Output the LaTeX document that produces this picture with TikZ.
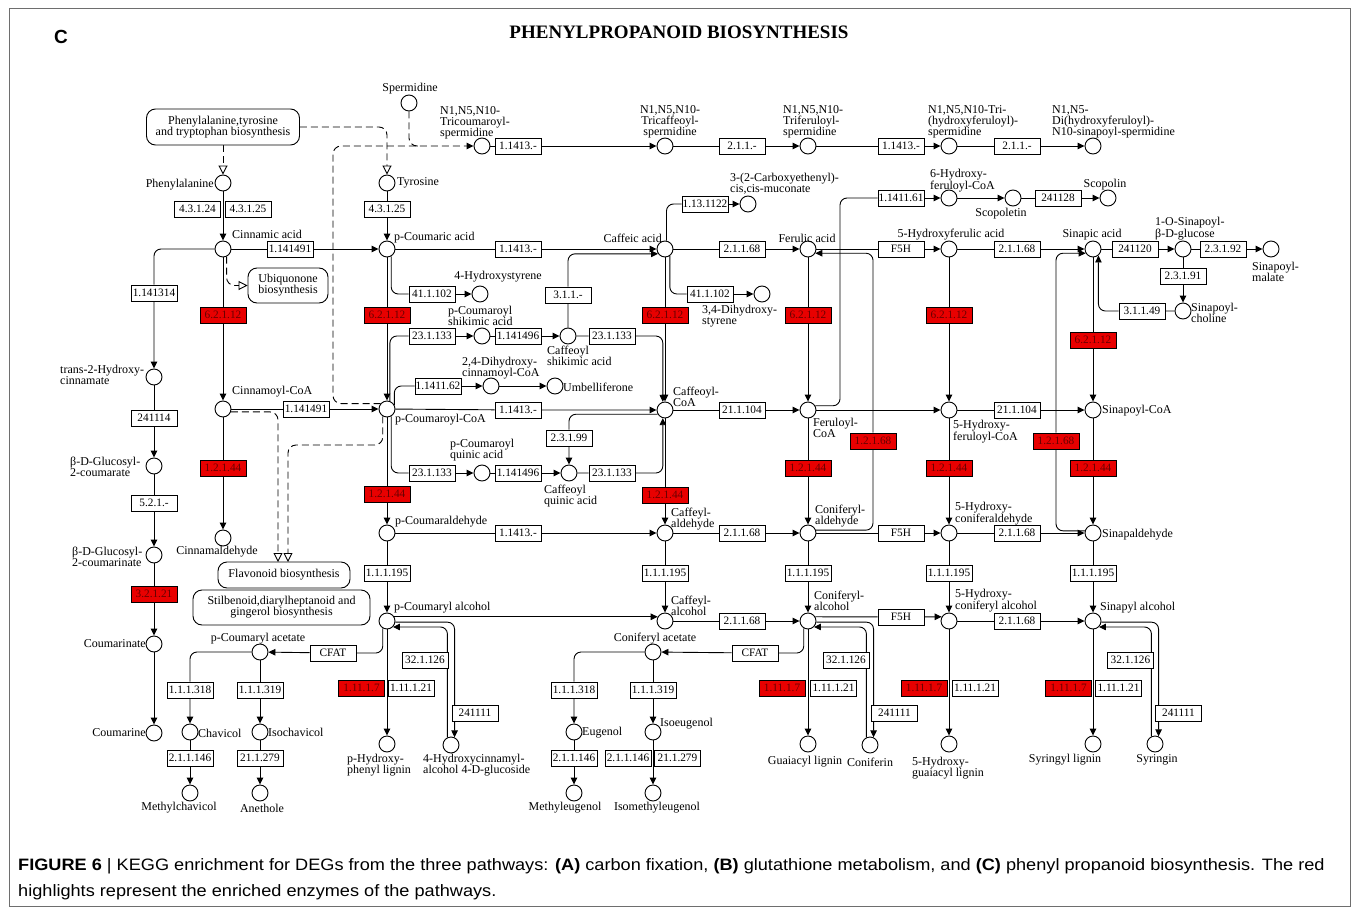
\documentclass[tikz,border=0pt]{standalone}
\usepackage{fontspec}
\setmainfont{Liberation Serif}
\newfontfamily\capfont{Liberation Sans}
\usetikzlibrary{arrows.meta,calc}
\pgfdeclarelayer{bg}
\pgfsetlayers{bg,main}
\definecolor{kred}{RGB}{232,0,0}
\definecolor{kdark}{RGB}{105,0,0}
\definecolor{framec}{RGB}{110,110,110}
\begin{document}
\begin{tikzpicture}[x=1pt,y=-1pt,
 cpd/.style={circle,draw,fill=white,minimum size=16pt,inner sep=0pt,line width=0.9pt},
 enz/.style={draw,fill=white,minimum width=46pt,minimum height=16pt,inner sep=0pt,line width=0.9pt,font=\fontsize{11.3}{11}\selectfont},
 renz/.style={enz,fill=kred,text=kdark},
 lbl/.style={inner sep=0pt,align=left,font=\fontsize{12}{11}\selectfont},
 clbl/.style={lbl,align=center},
 pbox/.style={draw,fill=white,rounded corners=9pt,align=center,line width=0.9pt,font=\fontsize{12}{11}\selectfont,inner sep=0pt},
 ln/.style={line width=0.9pt,rounded corners=7pt},
 rx/.style={ln,-{Triangle[length=7pt,width=6.5pt]}},
 dsh/.style={line width=0.9pt,dash pattern=on 7pt off 4pt,rounded corners=8pt},
 otri/.style={-{Triangle[open,length=9pt,width=9pt]}},
 captxt/.style={anchor=west,inner sep=0pt,font=\capfont\fontsize{16.5}{16.5}\selectfont},
]
\useasboundingbox (0,0) rectangle (1358,910);
\draw[framec,line width=1pt] (9,8) rectangle (1350,906);
\node[font=\capfont\bfseries\fontsize{19}{19}\selectfont,inner sep=0pt] (lettc) at (61,37) {C};
\node[font=\bfseries\fontsize{19}{19}\selectfont,inner sep=0pt] (title) at (679,32) {PHENYLPROPANOID BIOSYNTHESIS};

% ---------- pathway boxes
\node[pbox,minimum width=153pt,minimum height=36pt] (pbx1) at (223,127) {Phenylalanine,tyrosine\\and tryptophan biosynthesis};
\node[pbox,minimum width=80pt,minimum height=35pt] (ubq) at (288,285.5) {Ubiquonone\\biosynthesis};
\node[pbox,minimum width=132pt,minimum height=26pt] (flav) at (284,575) {Flavonoid biosynthesis};
\node[pbox,minimum width=177pt,minimum height=35pt] (stil) at (281.5,607.5) {Stilbenoid,diarylheptanoid and\\gingerol biosynthesis};

% ---------- compounds
\foreach \n/\x/\y in {spd/409/103,phe/223/183,cin/223/249,tyr/387/183,pca/387/249,hst/480/294,
 t2h/154/377,gca/154/466,gcn/154/555,cmt/154/644,cmr/154/733,cnc/223/409,cnd/223/538,
 pcc/387/409,psa/482/336,csa/568/336,dhc/491/386,umb/555/386,pqa/482/473,cqa/569/473,
 caf/665/249,ccoa/665/410,cmu/748/204,dhs/762/294,fer/808/249,fcoa/808/410,
 hfc/949/198,scl/1013/198,scp/1108/198,hfa/949/249,sin/1093/249,sgl/1183/249,smal/1271/249,
 sch/1183/311,scoa/1093/410,hfcoa/949/410,pcald/387/533,cfald/665/533,cnald/808/533,
 hcald/949/533,sald/1093/533,pcal/387/621,cfal/665/621,cnal/808/621,hcal/949/621,sal/1093/621,
 pcac/260/652,chv/190/732,ichv/260/732,mchv/190/793,ane/260/793,phl/387/744,hcg/451/745,
 cnac/653/652,eug/574/732,ieug/653/732,meug/574/793,imeug/653/793,gl/808/744,cnf/870/745,
 hgl/949/744,syl/1093/744,syr/1155/744,tcs/482/146,tcf/665/146,tfs/808/146,ths/949/146,dhsp/1093/146}
 {\node[cpd] (\n) at (\x,\y) {};}

% ---------- white enzymes
\foreach \n/\x/\y/\t in {e1/197.5/209/4.3.1.24,e2/248/209/4.3.1.25,e3/387/209/4.3.1.25,
 e4/290/249/1.141491,e5/154/293/1.141314,e6/154/418/241114,e7/154/503/5.2.1.-,
 e10/306/409/1.141491,e12/432/294/41.1.102,e14/432/336/23.1.133,e15/518/336/1.141496,
 e16/568/295/3.1.1.-,e17/612/336/23.1.133,e18/438/386/1.1411.62,e19/518/410/1.1413.-,
 e20/569/438/2.3.1.99,e21/432/473/23.1.133,e22/518/473/1.141496,e23/612/473/23.1.133,
 e25/518/533/1.1413.-,e26/387/573/1.1.1.195,e27/518/249/1.1413.-,e28/705/204/1.13.1122,
 e29/710/294/41.1.102,e31/742/249/2.1.1.68,e32/742/410/21.1.104,e34/742/533/2.1.1.68,
 e35/901/533/F5H,e36/665/573/1.1.1.195,e37/808/573/1.1.1.195,e41/901/198/1.1411.61,
 e42/1058/198/241128,e43/901/249/F5H,e44/1017/249/2.1.1.68,e45/1135/249/241120,
 e46/1223/249/2.3.1.92,e47/1183/276/2.3.1.91,e48/1142/311/3.1.1.49,e50/1017/410/21.1.104,
 e55/1017/533/2.1.1.68,e56/949/573/1.1.1.195,e57/1093/573/1.1.1.195,e58/742/621/2.1.1.68,
 e59/901/617/F5H,e60/1017/621/2.1.1.68,e61/333/653/CFAT,e62/190/690/1.1.1.318,
 e63/260/690/1.1.1.319,e64/190/758/2.1.1.146,e65/260/758/21.1.279,e67/411/688/1.11.1.21,
 e68/425/660/32.1.126,e69/475/713/241111,e70/755/653/CFAT,e71/574/690/1.1.1.318,
 e72/653/690/1.1.1.319,e73/574/758/2.1.1.146,e74/628/758/2.1.1.146,e75/677.5/758/21.1.279,
 e77/833.5/688/1.11.1.21,e78/846/660/32.1.126,e79/894.5/713/241111,e81/975/688/1.11.1.21,
 e83/1118.5/688/1.11.1.21,e84/1130.5/660/32.1.126,e85/1178.5/713/241111,
 e86/518/146/1.1413.-,e87/742/146/2.1.1.-,e88/901/146/1.1413.-,e89/1017/146/2.1.1.-}
 {\node[enz] (\n) at (\x,\y) {\t};}

% ---------- red enzymes
\foreach \n/\x/\y/\t in {e8/154/594/3.2.1.21,e9/223/315/6.2.1.12,e11/223/468/1.2.1.44,
 e13/387/315/6.2.1.12,e24/387/494/1.2.1.44,e30/665/315/6.2.1.12,e33/665/495/1.2.1.44,
 e38/808/468/1.2.1.44,e39/873/441/1.2.1.68,e40/808/315/6.2.1.12,e49/1093/340/6.2.1.12,
 e51/949/315/6.2.1.12,e52/1056/441/1.2.1.68,e53/949/468/1.2.1.44,e54/1093/468/1.2.1.44,
 e66/361.5/688/1.11.1.7,e76/782/688/1.11.1.7,e80/924/688/1.11.1.7,e82/1068.5/688/1.11.1.7}
 {\node[renz] (\n) at (\x,\y) {\t};}

% ---------- labels
\node[lbl] (l-spd) at (410,89) {Spermidine};
\node[lbl,anchor=east] (l-phe) at (214,185) {Phenylalanine};
\node[lbl,anchor=west] (l-cin) at (232,234) {Cinnamic acid};
\node[lbl,anchor=west] (l-tyr) at (397,183) {Tyrosine};
\node[lbl,anchor=west] (l-pca) at (394,238) {p-Coumaric acid};
\node[lbl] (l-hst) at (498,277) {4-Hydroxystyrene};
\node[lbl,anchor=west] (l-t2h) at (60,375) {trans-2-Hydroxy-\\cinnamate};
\node[lbl,anchor=west] (l-gca) at (70,467) {β-D-Glucosyl-\\2-coumarate};
\node[lbl,anchor=west] (l-gcn) at (72,557) {β-D-Glucosyl-\\2-coumarinate};
\node[lbl,anchor=east] (l-cmt) at (146,644) {Coumarinate};
\node[lbl,anchor=east] (l-cmr) at (146,733) {Coumarine};
\node[lbl,anchor=west] (l-cnc) at (232,392) {Cinnamoyl-CoA};
\node[lbl] (l-cnd) at (217,552) {Cinnamaldehyde};
\node[lbl,anchor=west] (l-pcc) at (395,420) {p-Coumaroyl-CoA};
\node[lbl,anchor=west] (l-psa) at (448,316) {p-Coumaroyl\\shikimic acid};
\node[lbl,anchor=west] (l-csa) at (547,356) {Caffeoyl\\shikimic acid};
\node[lbl,anchor=west] (l-dhc) at (462,368) {2,4-Dihydroxy-\\cinnamoyl-CoA};
\node[lbl,anchor=west] (l-umb) at (563,387) {Umbelliferone};
\node[lbl,anchor=west] (l-pqa) at (450,450) {p-Coumaroyl\\quinic acid};
\node[lbl,anchor=west] (l-cqa) at (544,496) {Caffeoyl\\quinic acid};
\node[lbl,anchor=east] (l-caf) at (662,238) {Caffeic acid};
\node[lbl,anchor=west] (l-ccoa) at (673,397) {Caffeoyl-\\CoA};
\node[lbl,anchor=west] (l-cmu) at (730,184) {3-(2-Carboxyethenyl)-\\cis,cis-muconate};
\node[lbl,anchor=west] (l-dhs) at (702,316) {3,4-Dihydroxy-\\styrene};
\node[lbl] (l-fer) at (807,238) {Ferulic acid};
\node[lbl,anchor=west] (l-fcoa) at (813,428) {Feruloyl-\\CoA};
\node[lbl,anchor=west] (l-hfc) at (930,181) {6-Hydroxy-\\feruloyl-CoA};
\node[lbl] (l-scl) at (1001,214) {Scopoletin};
\node[lbl] (l-scp) at (1105,185) {Scopolin};
\node[lbl] (l-hfa) at (951,235) {5-Hydroxyferulic acid};
\node[lbl] (l-sin) at (1092,235) {Sinapic acid};
\node[lbl,anchor=west] (l-sgl) at (1155,229) {1-O-Sinapoyl-\\β-D-glucose};
\node[lbl,anchor=west] (l-smal) at (1252,272) {Sinapoyl-\\malate};
\node[lbl,anchor=west] (l-sch) at (1191,313) {Sinapoyl-\\choline};
\node[lbl,anchor=west] (l-scoa) at (1102,411) {Sinapoyl-CoA};
\node[lbl,anchor=west] (l-hfcoa) at (953,432) {5-Hydroxy-\\feruloyl-CoA};
\node[lbl,anchor=west] (l-pcald) at (395,522) {p-Coumaraldehyde};
\node[lbl,anchor=west] (l-cfald) at (671,519) {Caffeyl-\\aldehyde};
\node[lbl,anchor=west] (l-cnald) at (815,516) {Coniferyl-\\aldehyde};
\node[lbl,anchor=west] (l-hcald) at (955,514) {5-Hydroxy-\\coniferaldehyde};
\node[lbl,anchor=west] (l-sald) at (1102,535) {Sinapaldehyde};
\node[lbl,anchor=west] (l-pcal) at (394,608) {p-Coumaryl alcohol};
\node[lbl,anchor=west] (l-cfal) at (671,606) {Caffeyl-\\alcohol};
\node[lbl,anchor=west] (l-cnal) at (814,601) {Coniferyl-\\alcohol};
\node[lbl,anchor=west] (l-hcal) at (955,601) {5-Hydroxy-\\coniferyl alcohol};
\node[lbl,anchor=west] (l-sal) at (1100,608) {Sinapyl alcohol};
\node[lbl] (l-pcac) at (258,639) {p-Coumaryl acetate};
\node[lbl,anchor=west] (l-chv) at (198,733) {Chavicol};
\node[lbl,anchor=west] (l-ichv) at (268,732) {Isochavicol};
\node[lbl] (l-mchv) at (179,808) {Methylchavicol};
\node[lbl] (l-ane) at (262,808) {Anethole};
\node[lbl,anchor=west] (l-phl) at (347,765) {p-Hydroxy-\\phenyl lignin};
\node[lbl,anchor=west] (l-hcg) at (423,765) {4-Hydroxycinnamyl-\\alcohol 4-D-glucoside};
\node[lbl] (l-cnac) at (655,639) {Coniferyl acetate};
\node[lbl,anchor=west] (l-eug) at (582,733) {Eugenol};
\node[lbl,anchor=west] (l-ieug) at (660,724) {Isoeugenol};
\node[lbl] (l-meug) at (565,808) {Methyleugenol};
\node[lbl] (l-imeug) at (657,808) {Isomethyleugenol};
\node[lbl] (l-gl) at (805,762) {Guaiacyl lignin};
\node[lbl] (l-cnf) at (870,762) {Coniferin};
\node[lbl,anchor=west] (l-hgl) at (912,768) {5-Hydroxy-\\guaiacyl lignin};
\node[lbl] (l-syl) at (1065,760) {Syringyl lignin};
\node[lbl] (l-syr) at (1157,760) {Syringin};
\node[lbl,anchor=west] (l-tcs) at (440,123) {N1,N5,N10-\\Tricoumaroyl-\\spermidine};
\node[clbl] (l-tcf) at (670,122) {N1,N5,N10-\\Tricaffeoyl-\\spermidine};
\node[lbl,anchor=west] (l-tfs) at (783,122) {N1,N5,N10-\\Triferuloyl-\\spermidine};
\node[lbl,anchor=west] (l-ths) at (928,122) {N1,N5,N10-Tri-\\(hydroxyferuloyl)-\\spermidine};
\node[lbl,anchor=west] (l-dhsp) at (1052,122) {N1,N5-\\Di(hydroxyferuloyl)-\\N10-sinapoyl-spermidine};

% ---------- caption
\node[captxt] (cap1) at (18,866)
 {\scalebox{1.1}[1]{\textbf{FIGURE 6} | KEGG enrichment for DEGs from the three pathways: \textbf{(A)} carbon fixation, \textbf{(B)} glutathione metabolism, and \textbf{(C)} phenyl propanoid biosynthesis. The red}};
\node[captxt] (cap2) at (18,892)
 {\scalebox{1.1}[1]{highlights represent the enriched enzymes of the pathways.}};

% ---------- helper coordinates
\coordinate (dsj) at (418,146);
\coordinate (dc1) at (333,146);
\coordinate (dc2) at (320,445);
\coordinate (fl1) at (278,562);
\coordinate (fl2) at (288,562);
\coordinate (c41) at (840,198);

% ---------- connectors
\begin{pgfonlayer}{bg}
\draw[dsh,otri] (pbx1) -- (phe);
\draw[dsh,otri] (pbx1.east) -| (tyr);
\draw[dsh] (spd) |- (dsj);
\draw[dsh,-{Triangle[length=7pt,width=6.5pt]}] (pcc.140) -| (dc1) -- (tcs);
\draw[dsh,otri] (cin.-65) |- (ubq.west);
\draw[dsh,otri] (cnc.-20) -| (fl1);
\draw[dsh,otri] (pcc.-120) |- (dc2) -| (fl2);

\draw[rx] (tcs) -- (e86) -- (tcf);
\draw[rx] (tcf) -- (e87) -- (tfs);
\draw[rx] (tfs) -- (e88) -- (ths);
\draw[rx] (ths) -- (e89) -- (dhsp);

\draw[rx] (phe) -- (cin);
\draw[rx] (tyr) -- (e3) -- (pca);
\draw[rx] (cin) -- (e4) -- (pca);
\draw[rx] (cin) -| (e5) -- (t2h);
\draw[rx] (cin) -- (e9) -- (cnc);
\draw[rx] (t2h) -- (e6) -- (gca);
\draw[rx] (gca) -- (e7) -- (gcn);
\draw[rx] (gcn) -- (e8) -- (cmt);
\draw[rx] (cmt) -- (cmr);
\draw[rx] (cnc) -- (e11) -- (cnd);
\draw[rx] (cnc) -- (e10) -- (pcc);

\draw[rx] (pca) -- (e13) -- (pcc);
\draw[ln] (pca.-60) |- (e12); \draw[rx] (e12) -- (hst);
\draw[ln] (pcc.70) |- (e14); \draw[rx] (e14) -- (psa);
\draw[rx] (psa) -- (e15) -- (csa);
\draw[rx] (csa) -- (e17) -| (ccoa.105);
\draw[rx] (csa) -- (e16) |- (caf.215);
\draw[ln] (pcc.30) |- (e18); \draw[rx] (e18) -- (dhc); \draw[rx] (dhc) -- (umb);
\draw[rx] (pcc) -- (e19) -- (ccoa);
\draw[rx] (ccoa.-150) -| (e20) -- (cqa);
\draw[ln] (pcc.-60) |- (e21); \draw[rx] (e21) -- (pqa);
\draw[rx] (pqa) -- (e22) -- (cqa);
\draw[rx] (cqa) -- (e23) -| (ccoa.-105);
\draw[rx] (pcc) -- (e24) -- (pcald);
\draw[rx] (pcald) -- (e25) -- (cfald);
\draw[rx] (pcald) -- (e26) -- (pcal);

\draw[rx] (pca) -- (e27) -- (caf);
\draw[ln] (caf.80) |- (e28); \draw[rx] (e28) -- (cmu);
\draw[ln] (caf.-55) |- (e29); \draw[rx] (e29) -- (dhs);
\draw[rx] (caf) -- (e30) -- (ccoa);
\draw[rx] (caf) -- (e31) -- (fer);
\draw[rx] (ccoa) -- (e32) -- (fcoa);
\draw[rx] (ccoa) -- (e33) -- (cfald);
\draw[rx] (cfald) -- (e34) -- (cnald);
\draw[rx] (cfald) -- (e36) -- (cfal);

\draw[rx] (fer) -- (e40) -- (fcoa);
\draw[rx] (fcoa) -- (e38) -- (cnald);
\draw[rx] (cnald) -- (e37) -- (cnal);
\draw[rx] (cnald) -- (e35) -- (hcald);
\draw[rx] (cnald.20) -| (e39) |- (fer.-30);
\draw[ln] (fcoa.30) -| (c41) -- (e41.west);
\draw[rx] (e41) -- (hfc);
\draw[rx] (hfc) -- (scl);
\draw[rx] (scl) -- (e42) -- (scp);
\draw[rx] (fer) -- (e43) -- (hfa);
\draw[rx] (fcoa) -- (hfcoa);

\draw[rx] (hfa) -- (e44) -- (sin);
\draw[rx] (hfa) -- (e51) -- (hfcoa);
\draw[rx] (hfcoa) -- (e50) -- (scoa);
\draw[rx] (hfcoa) -- (e53) -- (hcald);
\draw[rx] (hcald) -- (e55) -- (sald);
\draw[rx] (hcald) -- (e56) -- (hcal);

\draw[rx] (sin) -- (e45) -- (sgl);
\draw[rx] (sgl) -- (e46) -- (smal);
\draw[rx] (sgl) -- (e47) -- (sch);
\draw[rx] (sch) -- (e48) -| (sin.-50);
\draw[rx] (sin) -- (e49) -- (scoa);
\draw[rx] (scoa) -- (e54) -- (sald);
\draw[rx] (sald) -- (e57) -- (sal);
\draw[rx] (sald.165) -| (e52) |- (sin.210);

\draw[rx] (pcal.30) -- (cfal.150);
\draw[rx] (cfal) -- (e58) -- (cnal);
\draw[rx] (cnal.30) -- (e59) -- (hcal.150);
\draw[rx] (hcal) -- (e60) -- (sal);
\draw[rx] (pcal.-8) -| (hcg.65);
\draw[rx] (hcg.115) |- (pcal.-45);
\draw[rx] (cnal.-8) -| (cnf.65);
\draw[rx] (cnf.115) |- (cnal.-45);
\draw[rx] (sal.-8) -| (syr.65);
\draw[rx] (syr.115) |- (sal.-45);
\draw[rx] (pcal) -- (phl);
\draw[rx] (cnal) -- (gl);
\draw[rx] (hcal) -- (hgl);
\draw[rx] (sal) -- (syl);
\draw[rx] (pcal.-120) |- (e61) -- (pcac);
\draw[rx] (pcac) -| (e62) -- (chv);
\draw[rx] (pcac) -- (e63) -- (ichv);
\draw[rx] (chv) -- (e64) -- (mchv);
\draw[rx] (ichv) -- (e65) -- (ane);
\draw[rx] (cnal.-120) |- (e70) -- (cnac);
\draw[rx] (cnac) -| (e71) -- (eug);
\draw[rx] (cnac) -- (e72) -- (ieug);
\draw[rx] (eug) -- (e73) -- (meug);
\draw[rx] (ieug) -- (imeug);
\end{pgfonlayer}
\end{tikzpicture}
\end{document}
